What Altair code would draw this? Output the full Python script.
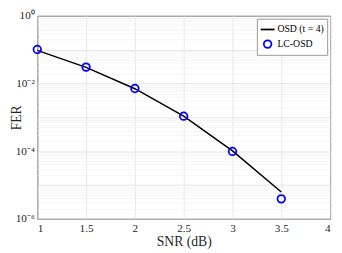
import altair as alt
import pandas as pd

# ---- data ----
snr = [1.0, 1.5, 2.0, 2.5, 3.0, 3.5]
fer_osd = [0.095, 0.030, 0.0070, 0.00108, 1.02e-4, 6.2e-6]
fer_lcosd = [0.101, 0.0305, 0.0071, 0.00108, 9.8e-5, 3.9e-6]
series_names = ["OSD (t = 4)", "LC-OSD"]
x_ticks = [1, 1.5, 2, 2.5, 3, 3.5, 4]
y_major_exp = [0, -2, -4, -6]
y_major_labels = ["10⁰", "10⁻²", "10⁻⁴", "10⁻⁶"]

# ---- tables ----
df_osd = pd.DataFrame({"snr": snr, "fer": fer_osd, "series": series_names[0]})
df_lc = pd.DataFrame({"snr": snr, "fer": fer_lcosd, "series": series_names[1]})

y_grid = [float(f"{m}e{k}") for k in range(-6, 0) for m in range(1, 10)] + [1.0]
label_expr = " : ".join(
    f"datum.value == {float(f'1e{e}')!r} ? '{lab}'" for e, lab in zip(y_major_exp, y_major_labels)
) + " : ''"
decade_test = "abs(log(datum.value)/LN10 - round(log(datum.value)/LN10)) < 1e-6"

FONT = "Liberation Serif"
W, H = 300, 208
x_scale = alt.Scale(domain=[1, 4], nice=False, zero=False)
y_scale = alt.Scale(type="log", domain=[1e-6, 1], nice=False)
color_scale = alt.Scale(domain=series_names, range=["#000000", "#0000ff"])
shape_scale = alt.Scale(domain=series_names, range=["stroke", "circle"])
size_scale = alt.Scale(domain=series_names, range=[200, 60])

x_enc = alt.X("snr:Q", scale=x_scale,
              axis=alt.Axis(title="SNR (dB)", values=x_ticks, format="~g", grid=True,
                            gridColor="#e0e0e0", ticks=False, labelPadding=4, titlePadding=1))
y_enc = alt.Y("fer:Q", scale=y_scale,
              axis=alt.Axis(title="FER", values=y_grid, labelExpr=label_expr, grid=True,
                            gridColor={"condition": {"test": decade_test, "value": "#e0e0e0"},
                                       "value": "#f2f2f2"},
                            ticks=False, labelPadding=3, titleX=-14, titleY=H / 2,
                            titleAnchor="middle"))
legend = alt.Legend(title=None, orient="top-right")

line = alt.Chart(df_osd).mark_line(strokeWidth=1.5).encode(
    x=x_enc, y=y_enc,
    color=alt.Color("series:N", scale=color_scale, legend=legend),
)
points = alt.Chart(df_lc).mark_point(filled=False, strokeWidth=1.8, opacity=1).encode(
    x=x_enc, y=y_enc,
    color=alt.Color("series:N", scale=color_scale, legend=legend),
    shape=alt.Shape("series:N", scale=shape_scale, legend=legend),
    size=alt.Size("series:N", scale=size_scale, legend=legend),
)

chart = (
    alt.layer(line, points)
    .properties(width=W, height=H, autosize=alt.AutoSizeParams(type="none"),
                padding={"left": 30, "top": 5, "right": 4, "bottom": 32})
    .configure_view(stroke="#262626", strokeWidth=1)
    .configure_axis(
        labelFont=FONT, titleFont=FONT, labelFontSize=11.5, titleFontSize=14,
        labelColor="#262626", titleColor="#262626", titleFontWeight="normal",
        gridWidth=0.8, domain=False,
    )
    .configure_legend(
        labelFont=FONT, labelFontSize=10, labelColor="#000000",
        fillColor="#ffffff", strokeColor="#999999", padding=3, offset=3,
        rowPadding=2, symbolStrokeWidth=1.8, labelOffset=2, symbolOffset=0,
    )
)

chart.save("out.html", embed_options={"renderer": "svg", "actions": False})
